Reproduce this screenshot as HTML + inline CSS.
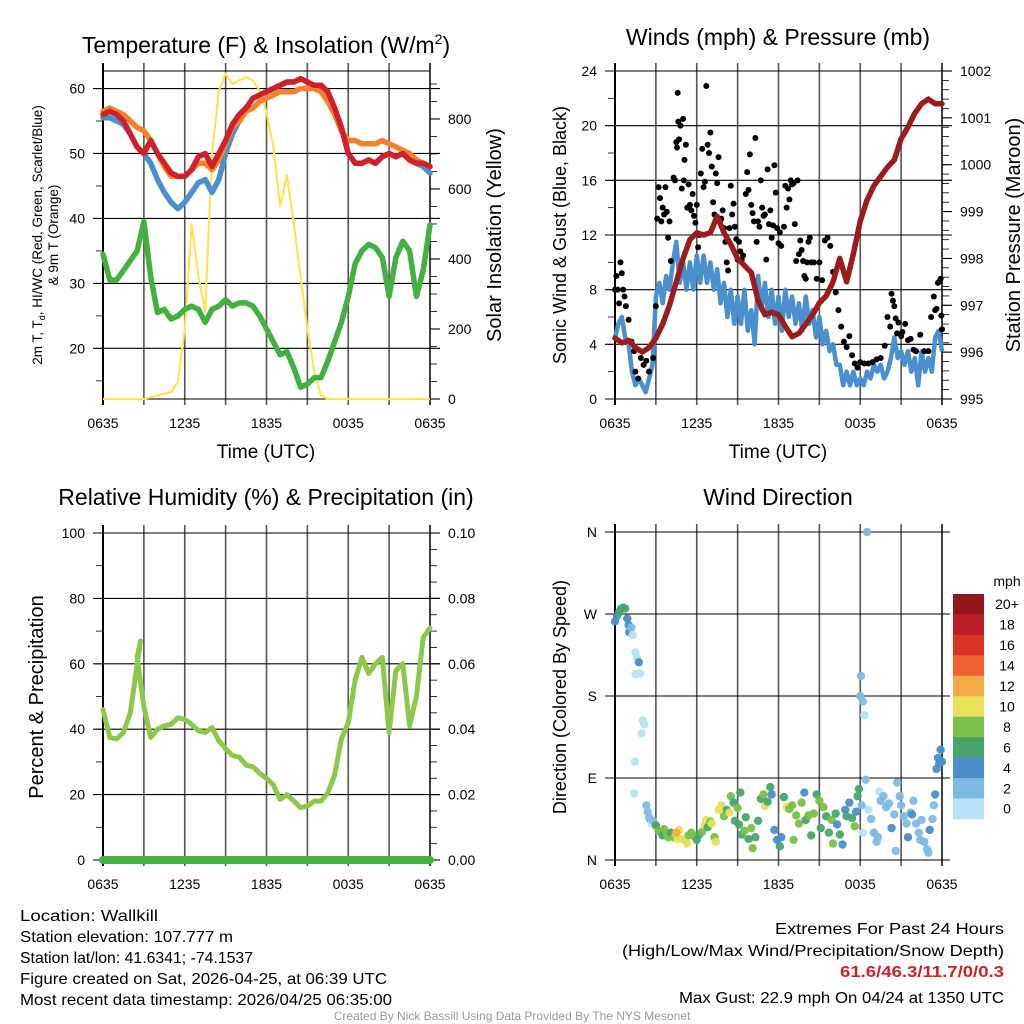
<!DOCTYPE html>
<html><head><meta charset="utf-8"><style>
html,body{margin:0;padding:0;background:#fff;}
svg{display:block;font-family:"Liberation Sans",Arial,sans-serif;}
</style></head><body>
<svg id="fig" width="1024" height="1024" viewBox="0 0 1024 1024" xmlns="http://www.w3.org/2000/svg">
<rect width="1024" height="1024" fill="#fff"/>
<g id="p1"></g>
<g id="p2"></g>
<g id="p3"></g>
<g id="p4"></g>
<g font-size="16" fill="#000">
<text x="20" y="921" textLength="138" lengthAdjust="spacingAndGlyphs">Location: Wallkill</text>
<text x="20" y="942" textLength="213" lengthAdjust="spacingAndGlyphs">Station elevation: 107.777 m</text>
<text x="20" y="963" textLength="233" lengthAdjust="spacingAndGlyphs">Station lat/lon: 41.6341; -74.1537</text>
<text x="20" y="984" textLength="367" lengthAdjust="spacingAndGlyphs">Figure created on Sat, 2026-04-25, at 06:39 UTC</text>
<text x="20" y="1005" textLength="372" lengthAdjust="spacingAndGlyphs">Most recent data timestamp: 2026/04/25 06:35:00</text>
<text x="1004" y="934" text-anchor="end" textLength="229" lengthAdjust="spacingAndGlyphs">Extremes For Past 24 Hours</text>
<text x="1004" y="956" text-anchor="end" textLength="382" lengthAdjust="spacingAndGlyphs">(High/Low/Max Wind/Precipitation/Snow Depth)</text>
<text x="1004" y="977" text-anchor="end" font-weight="bold" fill="#cc2229" textLength="164" lengthAdjust="spacingAndGlyphs">61.6/46.3/11.7/0/0.3</text>
<text x="1004" y="1003" text-anchor="end" textLength="325" lengthAdjust="spacingAndGlyphs">Max Gust: 22.9 mph On 04/24 at 1350 UTC</text>
<text x="512" y="1020" text-anchor="middle" font-size="12" fill="#999">Created By Nick Bassill Using Data Provided By The NYS Mesonet</text>
</g>
</svg>
<script>
const hours = [0,0.5,1,1.5,2,2.5,3,3.5,4,4.5,5,5.5,6,6.5,7,7.5,8,8.5,9,9.5,10,10.5,11,11.5,12,12.5,13,13.5,14,14.5,15,15.5,16,16.5,17,17.5,18,18.5,19,19.5,20,20.5,21,21.5,22,22.5,23,23.5,24];
const xTickLabels = ["0635","1235","1835","0035","0635"];
const tempRed = [56,56.5,56,55,53,51,50,52,50,48.5,47,46.5,46.5,47.5,49.5,50,48,50,52,54.5,56,57,58.5,59,59.5,60,60.5,61,61,61.5,61,60.5,60.5,59.5,57,54,50,48.5,48.5,49,48.5,49.5,50,49.5,50,49,48.5,48.5,48];
const temp9m = [56.5,57,56.5,56,55,54,53.5,52,50,48,46.5,46.5,46.5,47.5,48.5,48.5,47.5,49,51.5,54,55,56.5,57,58,58.5,59,59.5,59.5,59.5,60,60,60,59.5,58,56,53.5,52,52,51.5,51.5,51.5,52,51.5,51,50.5,50,49,48.5,48];
const tempHIWC = [55.5,55.5,55,54.5,53,51,50,48.5,46,44,42.5,41.5,42.5,44,45.5,46,44,46,50,53,55,57,58.5,59,59.5,60,60.5,61,61,61.5,61,60.5,60.5,59.5,57,54,50,48.5,48.5,49,48.5,49.5,50,49.5,50,49,48.5,48,47];
const dewpoint = [34.5,30.5,30.5,32,33.5,35,39.5,31,25.5,26,24.5,25,26,26.5,26,24,26,26.5,27.5,26.5,27,27,26.5,25,23,21,19,19.5,17,14,14.5,15.5,15.5,18,21,24,28,33,35,36,35.5,34,28,34,36.5,35,28,32,39];
const solar = [0,0,0,0,0,0,0,5,10,15,20,50,200,500,350,250,700,880,930,900,910,920,910,880,820,720,550,640,500,350,200,80,10,0,0,0,0,0,0,0,0,0,0,0,0,0,0,0,0];
const windHours = [0,0.25,0.5,0.75,1,1.25,1.5,1.75,2,2.25,2.5,2.75,3,3.25,3.5,3.75,4,4.25,4.5,4.75,5,5.25,5.5,5.75,6,6.25,6.5,6.75,7,7.25,7.5,7.75,8,8.25,8.5,8.75,9,9.25,9.5,9.75,10,10.25,10.5,10.75,11,11.25,11.5,11.75,12,12.25,12.5,12.75,13,13.25,13.5,13.75,14,14.25,14.5,14.75,15,15.25,15.5,15.75,16,16.25,16.5,16.75,17,17.25,17.5,17.75,18,18.25,18.5,18.75,19,19.25,19.5,19.75,20,20.25,20.5,20.75,21,21.25,21.5,21.75,22,22.25,22.5,22.75,23,23.25,23.5,23.75,24];
const windSpeed = [4.5,5.5,6,4.5,4,2,1,1.5,1,0.5,1.5,2.5,7.5,8.5,7,9,8,10,11.5,8.5,10,8,10,8,10.5,8.5,10.5,8.5,10,8,9.5,7,8.5,6,8,5.5,7.5,5.5,8,5,6.5,4,9,6.5,8.5,6,8,5.5,7.5,5,8,6,7.5,5.5,7,5,7.5,5.5,6.5,4.5,6,4,5,3.5,4,2.5,2.5,1,2,1,2,1,1.5,1,2,1.5,2.5,2,2.5,1.5,2,3,4.5,3,3.5,2.5,3.5,2,3,1,3.5,2,3,2,4.5,5,3.5];
const pressure = [996.3,996.2,996.25,996.1,996.0,996.1,996.3,996.6,997.0,997.5,998.0,998.4,998.55,998.5,998.55,998.9,998.55,998.3,998.0,997.85,997.7,997.1,996.8,996.85,996.8,996.55,996.33,996.4,996.6,996.8,997.05,997.2,997.5,998.0,997.5,998.1,998.8,999.25,999.55,999.75,999.95,1000.1,1000.55,1000.8,1001.1,1001.3,1001.4,1001.3,1001.3];
const gustT = [0,0.1,0.2,0.3,0.4,0.5,0.6,0.7,0.8,1.0,1.2,1.4,1.5,1.7,1.9,2.1,2.3,2.5,2.8,3.0,3.1,3.2,3.3,3.4,3.5,3.6,3.7,3.8,3.9,4.0,4.1,4.3,4.4,4.5,4.55,4.6,4.65,4.7,4.8,4.9,5.0,5.05,5.1,5.2,5.3,5.4,5.5,5.6,5.7,5.8,5.9,6.0,6.1,6.2,6.3,6.4,6.5,6.6,6.7,6.8,6.9,7.0,7.1,7.2,7.3,7.4,7.5,7.6,7.7,7.8,7.9,8.0,8.1,8.2,8.3,8.4,8.5,8.6,8.7,8.8,8.9,9.0,9.1,9.2,9.3,9.4,9.6,9.7,9.8,9.9,10.0,10.1,10.2,10.3,10.4,10.5,10.6,10.7,10.8,10.9,11.0,11.1,11.2,11.3,11.4,11.5,11.6,11.7,11.8,11.9,12.0,12.1,12.2,12.4,12.5,12.6,12.7,12.8,12.9,13.0,13.1,13.2,13.3,13.4,13.5,13.6,13.7,13.8,13.9,14.0,14.1,14.2,14.3,14.4,14.6,14.8,15.0,15.2,15.4,15.6,15.8,16.0,16.2,16.4,16.6,16.8,17.0,17.2,17.4,17.6,17.8,18.0,18.3,18.6,18.9,19.2,19.5,19.8,20.0,20.2,20.3,20.4,20.5,20.6,20.7,20.8,21.0,21.1,21.3,21.5,21.7,21.9,22.1,22.4,22.7,23.0,23.2,23.4,23.5,23.6,23.7,23.8,23.9,23.95,24.0];
const gustV = [8,9,8,7,10,9.2,8,7.5,6.8,5.8,4.2,3.5,2,1.5,3,2.5,2.8,2,3,6.8,13.2,15.5,14.7,13,14,13.5,15.5,13.7,11.8,13,10.1,16.2,16,18.8,18.4,22.4,20.3,19,20,15.4,20.5,16,17.5,18.6,14,15.7,14.2,13.8,15,13.4,12.9,14.2,11.1,12,16.5,18.3,15.5,15.9,22.9,18.6,18,19.5,17,14.4,13.5,16.5,15.8,17.7,13,13.2,13.8,12.5,11.5,10,9.4,12.5,15.6,13.5,14.3,12.6,11.7,10.2,11.5,10.8,10.2,10.5,15,16.6,15.3,17.9,14.2,13.6,13,19.1,11.5,13,12.6,16,14,13.4,13.5,10.2,16.8,12.8,13.8,11.8,12.7,17.1,15.1,12.5,11.4,12.2,11.2,12.6,15.6,14,15.4,14.6,16,15.7,15.8,12.8,10.1,16,10.6,11.6,10.9,10.1,9,8.8,10,11.5,11.8,10,10,8.8,10,8.7,11.6,11.8,11.2,9.3,7.8,6.5,5.3,4.2,3.8,4.6,3.2,2.6,2.3,2.7,2.6,2.6,2.7,2.9,3.0,3.9,6,5.3,7.7,7.2,6.8,5.9,4.8,5.6,4.6,4.9,5.5,4.3,4.4,3.6,3.5,4.7,3.5,3.5,6,7.5,6.5,6.6,8.5,8.6,8.8,6.1,5.1];
const rh = [46,37.5,37,39,45,62,47,37.5,40,41,41.5,43.5,43,41.5,39.5,39,40.5,36.5,34,32,31.5,29,28.5,26.5,25,23,18.5,20,18,16,16.5,18,18,20.5,26,37,42,55,62,57,60,62,39,58,60,41,50,68,71];
const rhPeakT = [2.75]; const rhPeakV = [67];
const precip = [0,0,0,0,0,0,0,0,0,0,0,0,0,0,0,0,0,0,0,0,0,0,0,0,0,0,0,0,0,0,0,0,0,0,0,0,0,0,0,0,0,0,0,0,0,0,0,0,0];
const wdT = [0,0.15,0.3,0.45,0.6,0.75,0.9,1.0,1.05,1.2,1.3,1.5,1.6,1.75,1.5,1.85,2.05,2.15,1.95,1.45,1.4,2.3,2.4,2.5,2.6,2.7,2.8,3.0,3.2,3.4,3.5,3.6,3.8,3.9,4.1,4.3,4.5,4.6,4.7,4.5,4.9,5.1,5.3,5.4,5.6,5.8,6.0,6.2,6.4,6.6,6.7,6.8,7.0,7.1,7.3,7.4,7.6,7.8,8.0,8.2,8.4,8.5,8.7,8.8,9.0,9.1,9.2,9.3,9.5,9.6,9.8,10.0,10.1,10.3,10.5,10.7,10.9,11.0,11.2,11.4,11.5,11.7,11.9,12.1,12.2,12.4,12.6,12.8,13.0,13.1,13.3,13.5,13.7,13.9,14.0,14.2,14.4,14.6,14.8,15.0,15.1,15.3,15.5,15.7,15.9,16.0,16.2,16.3,16.5,16.7,16.9,17.0,17.2,17.4,17.6,17.7,17.8,17.9,18.05,18.0,18.2,18.3,18.5,18.4,18.1,18.2,18.6,18.8,19.0,19.2,19.4,19.5,19.7,19.9,20.1,20.3,20.5,20.7,20.9,21.0,21.2,21.4,21.5,21.7,21.9,22.1,22.3,22.5,22.7,22.9,23.1,23.3,23.4,23.5,23.6,23.7,23.8,23.9,24.0,19.0,19.3,20.6,21.8,22.4,23.0];
const wdDeg = [262,268,272,276,277,276,265,258,250,255,247,228,222,217,204,205,153,149,139,108,73,60,53,47,44,40,43,38,32,30,27,34,28,25,30,25,28,23,33,30,23,22,18,27,30,26,22,28,31,38,44,36,42,40,25,20,55,60,48,55,52,70,63,43,57,39,74,28,32,47,23,35,13,25,43,67,72,59,64,80,72,33,22,15,25,69,58,56,60,22,49,40,63,74,44,49,27,51,72,65,35,58,48,30,44,18,51,39,28,17,55,48,63,46,37,53,70,78,202,180,174,159,360,88,60,30,55,45,30,20,75,65,70,58,62,35,50,85,70,60,48,40,25,52,65,40,30,44,20,12,33,45,60,72,100,112,106,121,108,30,25,10,50,22,8,38];
const wdSpd = [4,4,6,6,6,6,4,4,4,2,0,0,0,4,0,0,0,0,0,0,0,2,2,2,2,0,2,6,8,8,6,8,8,8,6,8,10,10,10,12,10,10,10,8,8,8,6,6,8,10,10,6,8,10,8,10,10,10,8,6,10,8,6,6,8,6,6,6,8,6,6,8,8,6,6,6,8,10,6,6,4,4,4,6,4,6,10,8,8,8,8,8,8,4,6,8,6,8,6,8,6,8,6,6,8,8,6,4,6,4,4,6,4,6,8,4,6,6,2,2,2,0,2,2,2,0,0,2,2,2,0,2,2,2,2,4,2,2,2,2,2,2,4,2,2,2,2,2,2,2,4,2,2,4,4,4,4,4,4,2,2,2,4,2,2,2];
const cbLabels = ["20+","18","16","14","12","10","8","6","4","2","0"];
const cbColors = ["#93181c","#bd1f26","#dc3328","#ee6230","#f5a947","#e8e15a","#7ac04a","#49a56d","#4a8fc8","#7fbae3","#b8e3f7"];

const NS="http://www.w3.org/2000/svg";
function mk(parent,tag,attrs,txt){const e=document.createElementNS(NS,tag);for(const k in attrs)e.setAttribute(k,attrs[k]);if(txt!==undefined)e.textContent=txt;parent.appendChild(e);return e;}
function axisX(L,R){return t=>L+(R-L)*t/24;}
function axisY(T,B,lo,hi){return v=>B-(B-T)*(v-lo)/(hi-lo);}
function pathFrom(ts,vs,sx,sy){return ts.map((t,i)=>(i?'L':'M')+sx(t).toFixed(1)+','+sy(vs[i]).toFixed(1)).join(' ');}

function frame(g,L,R,T,B){
  for(let h=3;h<24;h+=3){
    const x=L+(R-L)*h/24;
    const gl=mk(g,'line',{x1:x,x2:x,y1:T-8,y2:B+6,stroke:'#555','stroke-width':1.6});
    
    
  }
  const fr=mk(g,'rect',{x:L,y:T,width:R-L,height:B-T,fill:'none',stroke:'#000','stroke-width':1});
  
  
  mk(g,'line',{x1:L,x2:L,y1:T-8,y2:B+6,stroke:'#000','stroke-width':2});
  mk(g,'line',{x1:R,x2:R,y1:T-8,y2:B+6,stroke:'#000','stroke-width':1.5});
  xTickLabels.forEach((lab,i)=>{
    const x=L+(R-L)*i/4;
    const t=mk(g,'text',{x:x,y:B+29,'font-size':14,'text-anchor':'middle'},lab);
    
    
  });
}
function leftAxis(g,L,R,sy,major,minor,fmt,grid){
  minor.forEach(v=>mk(g,'line',{x1:L-7,x2:L,y1:sy(v),y2:sy(v),stroke:'#000','stroke-width':0.8}));
  major.forEach(v=>{
    if(grid)mk(g,'line',{x1:L-10,x2:R+10,y1:sy(v),y2:sy(v),stroke:'#000','stroke-width':1.1});
    const t=mk(g,'text',{x:L-18,y:sy(v)+5,'font-size':14,'text-anchor':'end'},fmt(v));
    
    
  });
}
function rightAxis(g,R,sy,major,minor,fmt){
  minor.forEach(v=>mk(g,'line',{x1:R,x2:R+7,y1:sy(v),y2:sy(v),stroke:'#000','stroke-width':0.8}));
  major.forEach(v=>{
    mk(g,'line',{x1:R,x2:R+10,y1:sy(v),y2:sy(v),stroke:'#000','stroke-width':1.1});
    const t=mk(g,'text',{x:R+18,y:sy(v)+5,'font-size':14,'text-anchor':'start'},fmt(v));
    
    
  });
}
function rng(a,b,s){const r=[];for(let v=a;v<=b+1e-9;v+=s)r.push(+v.toFixed(4));return r;}
function vtext(g,x,y,size,txt,name){const t=mk(g,'text',{x:x,y:y,'font-size':size,'text-anchor':'middle',transform:`rotate(-90 ${x} ${y})`},txt);return t;}
function title(g,x,y,txt,name){const t=mk(g,'text',{x:x,y:y,'font-size':23,'text-anchor':'middle'},txt);return t;}

/* Panel 1 */
(function(){
  const g=document.getElementById('p1');
  const L=103,R=430,T=71,B=399;
  const sx=axisX(L,R), sy=axisY(T,B,12.2,62.7), sr=axisY(T,B,0,937);
  frame(g,L,R,T,B);
  leftAxis(g,L,R,sy,[20,30,40,50,60],rng(15,60,5),v=>v,true);
  rightAxis(g,R,sr,[0,200,400,600,800],rng(0,900,50),v=>v);
  const y=mk(g,'path',{d:pathFrom(hours,solar,sx,sr),fill:'none',stroke:'#fde35a','stroke-width':2.2,'stroke-linejoin':'round'});
   
  const dw=mk(g,'path',{d:pathFrom(hours,dewpoint,sx,sy),fill:'none',stroke:'#43b040','stroke-width':5.5,'stroke-linejoin':'round','stroke-linecap':'round'});
   
  const bl=mk(g,'path',{d:pathFrom(hours,tempHIWC,sx,sy),fill:'none',stroke:'#4a90cf','stroke-width':5.5,'stroke-linejoin':'round','stroke-linecap':'round'});
   
  const o=mk(g,'path',{d:pathFrom(hours,temp9m,sx,sy),fill:'none',stroke:'#f4822d','stroke-width':5.5,'stroke-linejoin':'round','stroke-linecap':'round'});
   
  const r=mk(g,'path',{d:pathFrom(hours,tempRed,sx,sy),fill:'none',stroke:'#d0202a','stroke-width':5.5,'stroke-linejoin':'round','stroke-linecap':'round'});
   
  const tt=mk(g,'text',{x:266,y:53,'font-size':23,'text-anchor':'middle'});
   
  tt.innerHTML='Temperature (F) &amp; Insolation (W/m<tspan dy="-9" font-size="14">2</tspan><tspan dy="9">)</tspan>';
  const xt=mk(g,'text',{x:266,y:458,'font-size':19,'text-anchor':'middle'},'Time (UTC)');
   
  const yl=mk(g,'text',{x:42,y:235,'font-size':13.5,'text-anchor':'middle',transform:'rotate(-90 42 235)'});
   
  yl.innerHTML='2m T, T<tspan dy="3" font-size="9">d</tspan><tspan dy="-3">, HI/WC (Red, Green, Scarlet/Blue)</tspan>';
  vtext(g,58,235,13.5,'& 9m T (Orange)','y-axis-title-line2');
  vtext(g,501,235,20,'Solar Insolation (Yellow)','right-axis-title');
})();

/* Panel 2 */
(function(){
  const g=document.getElementById('p2');
  const L=615,R=942,T=71,B=399;
  const sx=axisX(L,R), sy=axisY(T,B,0,24), sp=axisY(T,B,995,1002);
  frame(g,L,R,T,B);
  leftAxis(g,L,R,sy,[0,4,8,12,16,20,24],rng(2,22,2),v=>v,true);
  rightAxis(g,R,sp,[995,996,997,998,999,1000,1001,1002],rng(995,1002,0.2),v=>v);
  const w=mk(g,'path',{d:pathFrom(windHours,windSpeed,sx,sy),fill:'none',stroke:'#4a90cf','stroke-width':4.5,'stroke-linejoin':'round'});
   
  gustT.forEach((t,i)=>{
    const c=mk(g,'circle',{cx:sx(t),cy:sy(gustV[i]),r:3,fill:'#000'});
    
    
  });
  const p=mk(g,'path',{d:pathFrom(hours,pressure,sx,sp),fill:'none',stroke:'#9b1c1c','stroke-width':5.5,'stroke-linejoin':'round','stroke-linecap':'round'});
   
  title(g,778,45,'Winds (mph) & Pressure (mb)','winds-title');
  const xt=mk(g,'text',{x:778,y:458,'font-size':19,'text-anchor':'middle'},'Time (UTC)');
   
  vtext(g,566,235,18,'Sonic Wind & Gust (Blue, Black)','y-axis-title');
  vtext(g,1020,235,20,'Station Pressure (Maroon)','right-axis-title');
})();

/* Panel 3 */
(function(){
  const g=document.getElementById('p3');
  const L=103,R=430,T=533,B=860;
  const sx=axisX(L,R), sy=axisY(T,B,0,100), sp=axisY(T,B,0,0.1);
  frame(g,L,R,T,B);
  leftAxis(g,L,R,sy,[0,20,40,60,80,100],rng(10,90,10),v=>v,true);
  rightAxis(g,R,sp,[0,0.02,0.04,0.06,0.08,0.1],rng(0,0.1,0.005),v=>v.toFixed(2));
  const ts=hours.slice(0,5).concat(rhPeakT,hours.slice(5));
  const vs=rh.slice(0,5).concat(rhPeakV,rh.slice(5));
  const l=mk(g,'path',{d:pathFrom(ts,vs,sx,sy),fill:'none',stroke:'#8dc84a','stroke-width':5,'stroke-linejoin':'round','stroke-linecap':'round'});
   
  const pr=mk(g,'path',{d:pathFrom(hours,precip,sx,sp),fill:'none',stroke:'#45b045','stroke-width':8,'stroke-linecap':'round'});
   
  title(g,266,505,'Relative Humidity (%) & Precipitation (in)','humidity-title');
  vtext(g,43,697,20,'Percent & Precipitation','y-axis-title');
})();

/* Panel 4 */
(function(){
  const g=document.getElementById('p4');
  const L=615,R=942,T=532,B=860;
  const sx=axisX(L,R), sy=axisY(T,B,0,360);
  frame(g,L,R,T,B);
  const dirs=[[0,'N'],[90,'E'],[180,'S'],[270,'W'],[360,'N']];
  dirs.forEach(d=>{
    mk(g,'line',{x1:L-10,x2:R+8,y1:sy(d[0]),y2:sy(d[0]),stroke:'#000','stroke-width':1.1});
    const t=mk(g,'text',{x:L-18,y:sy(d[0])+5,'font-size':14,'text-anchor':'end'},d[1]);
    
    
  });
  function col(s){const i=Math.min(10,Math.floor(s/2));return cbColors[10-i];}
  wdT.forEach((t,i)=>{
    const c=mk(g,'circle',{cx:sx(t),cy:sy(wdDeg[i]),r:4.2,fill:col(wdSpd[i]),'fill-opacity':0.95});
    
    
  });
  title(g,778,505,'Wind Direction','wind-direction-title');
  vtext(g,566,697,18,'Direction (Colored By Speed)','y-axis-title');
  const cb=mk(g,'g',{});
   
  const h=20.45;
  cbColors.forEach((c,i)=>{
    mk(cb,'rect',{x:953,y:594+i*h,width:31,height:h+0.5,fill:c});
    const t=mk(cb,'text',{x:1007,y:594+i*h+h/2+5,'font-size':14,'text-anchor':'middle'},cbLabels[i]);
    
    
  });
  const m=mk(cb,'text',{x:1007,y:586,'font-size':14,'text-anchor':'middle'},'mph');
   
})();
</script>
</body></html>
